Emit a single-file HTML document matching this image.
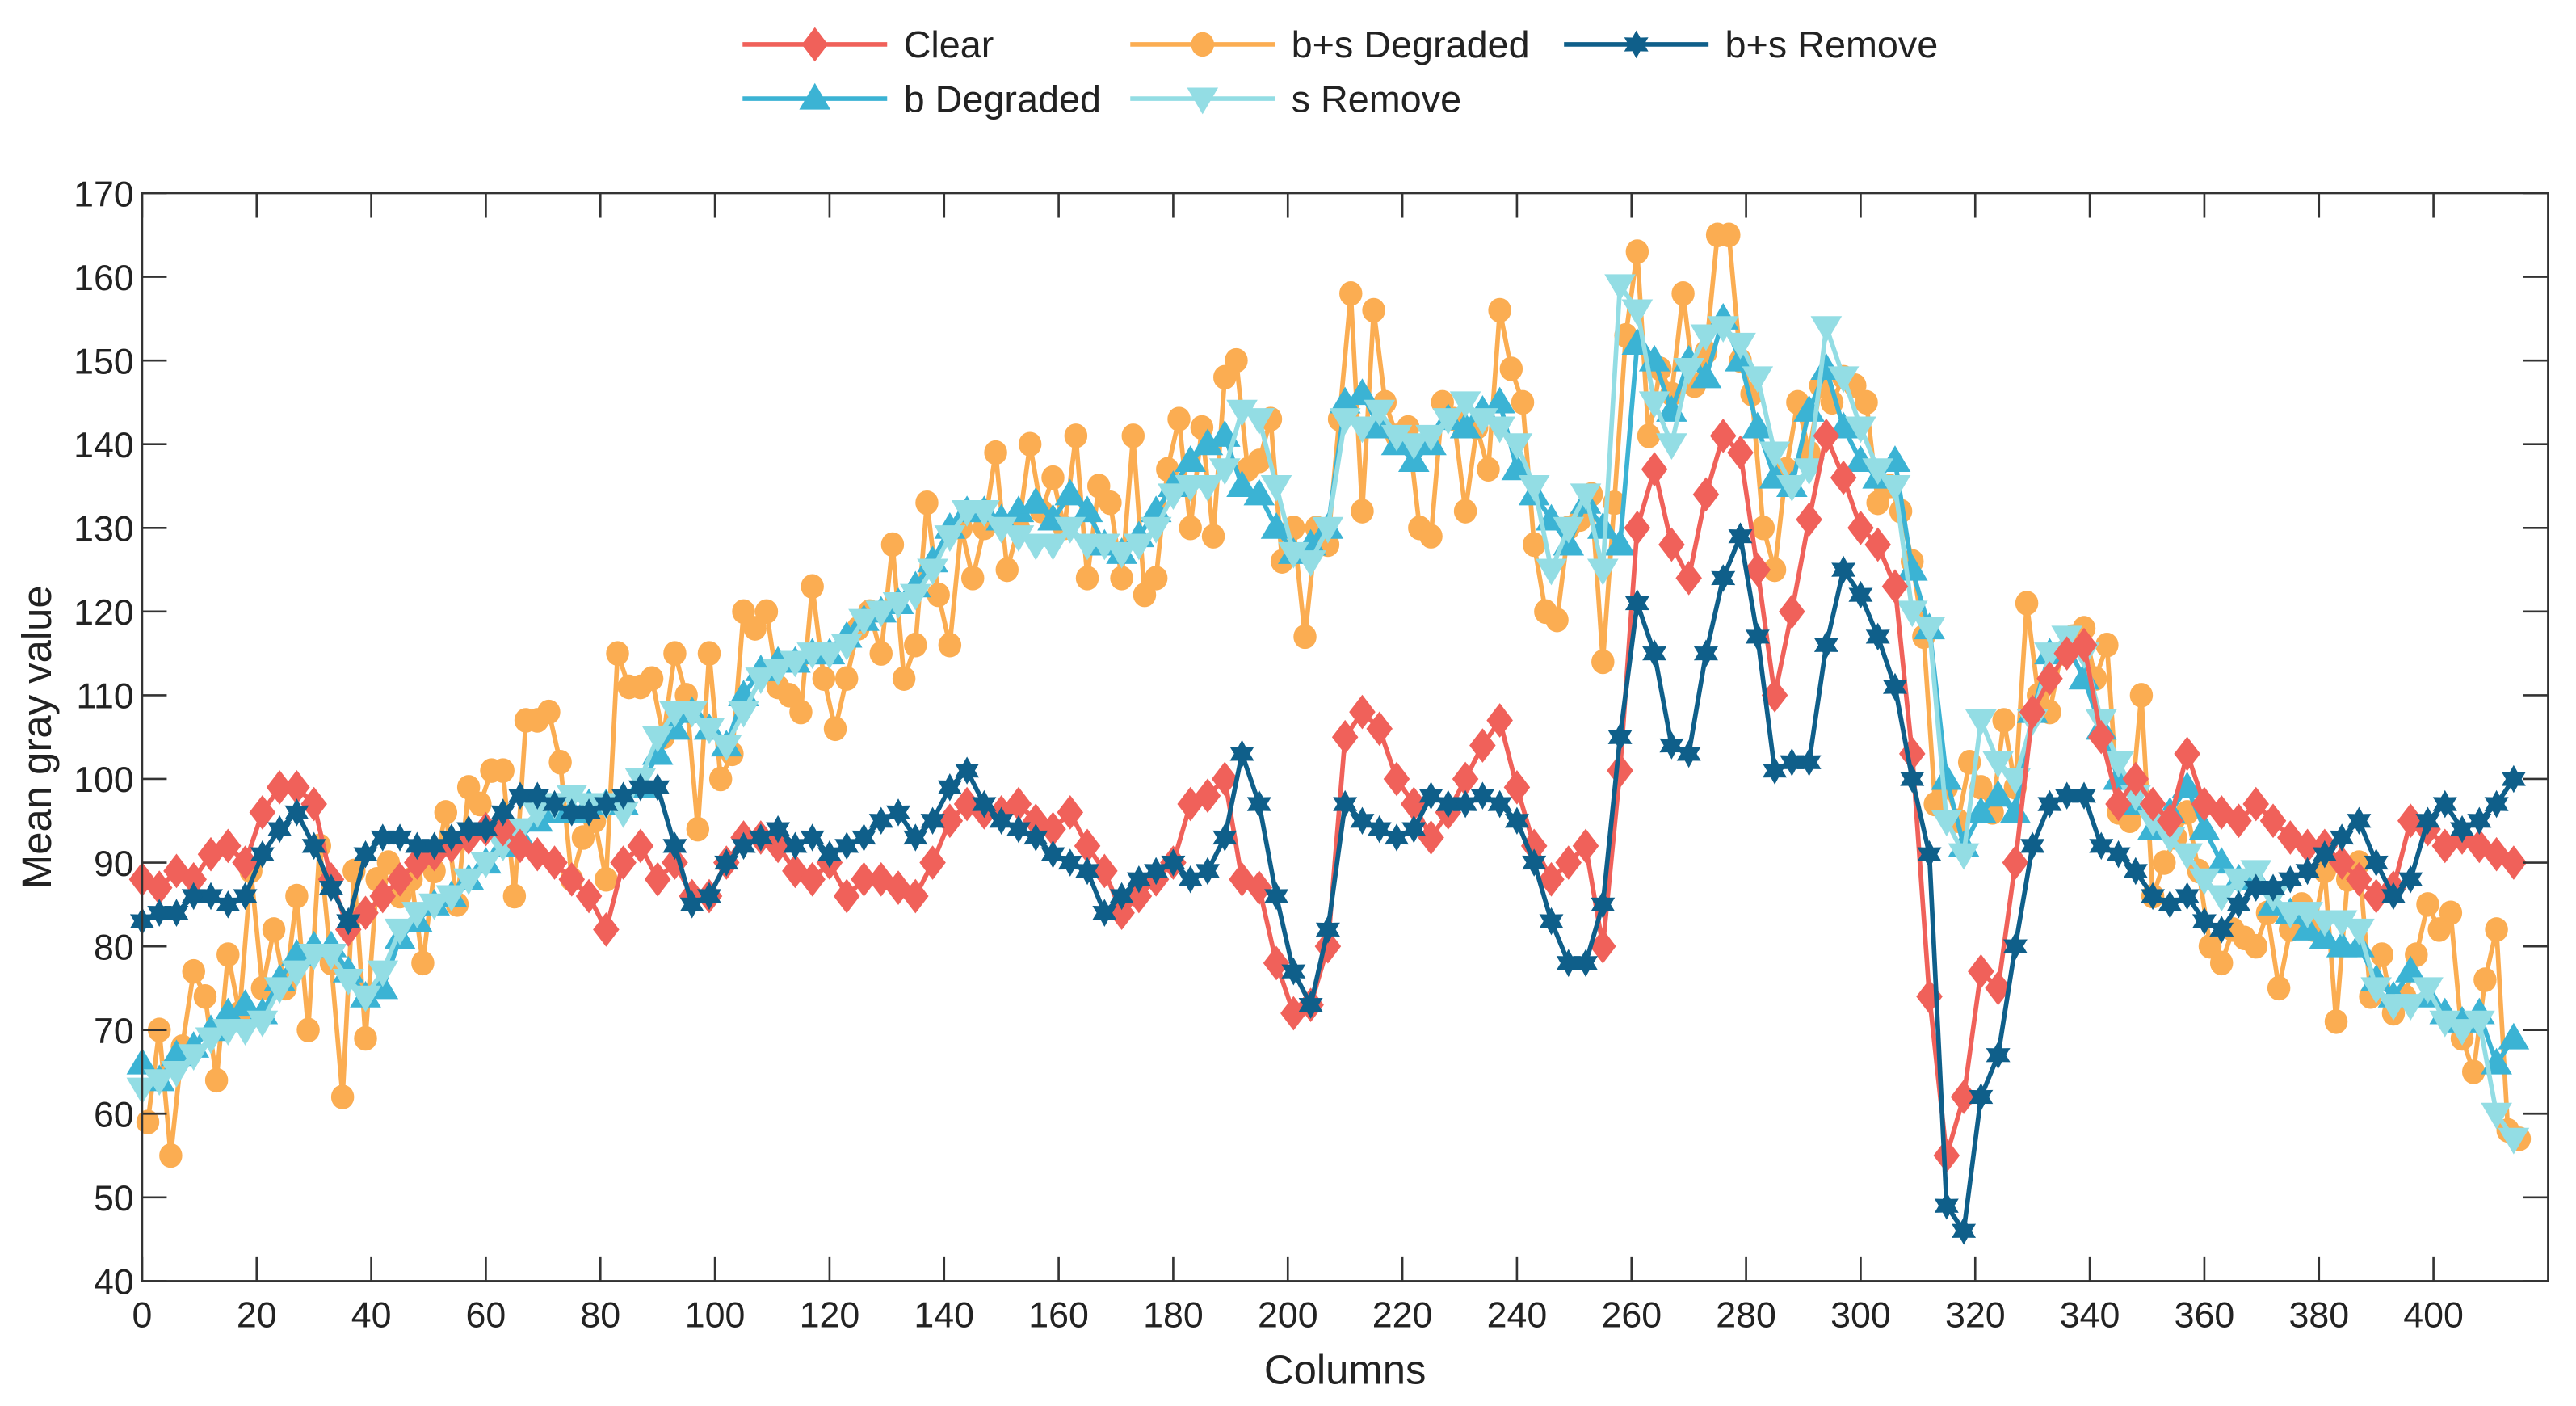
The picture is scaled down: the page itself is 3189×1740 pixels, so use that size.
<!DOCTYPE html>
<html><head><meta charset="utf-8"><style>
html,body{margin:0;padding:0;background:#fff;}
svg{display:block;}
text{font-family:"Liberation Sans",Arial,sans-serif;fill:#222;}
</style></head><body>
<svg id="chart" width="3189" height="1740" viewBox="0 0 1568 855.5" xmlns="http://www.w3.org/2000/svg">
<g id="grid-layer"></g>
<g id="series-layer"></g>
<g id="axis-layer"></g>
<g id="legend-layer"></g>
</svg>
<script>
const clearVals=[88,87,89,88,91,92,90,96,99,99, 97,88,82,84,86,88,90,91,92,93, 94,94,92,91,90,88,86,82,90,92, 88,90,86,86,90,93,93,92,89,88, 90,86,88,88,87,86,90,95,97,96, 96,97,95,94,96,92,89,84,86,88, 90,97,98,100,88,87,78,72,73,80, 105,108,106,100,97,93,96,100,104,107, 99,92,88,90,92,80,101,130,137,128, 124,134,141,139,125,110,120,131,141,136, 130,128,123,103,74,55,62,77,75,90, 108,112,115,116,105,97,100,97,95,103, 97,96,95,97,95,93,92,92,90,88, 86,87,95,94,92,93,92,91,90];
const bsRemoveVals=[83,84,84,86,86,85,86,91,94,96, 92,87,83,91,93,93,92,92,93,94, 94,96,98,98,97,96,96,97,98,99, 99,92,85,86,90,92,93,94,92,93, 91,92,93,95,96,93,95,99,101,97, 95,94,93,91,90,89,84,86,88,89, 90,88,89,93,103,97,86,77,73,82, 97,95,94,93,94,98,97,97,98,97, 95,90,83,78,78,85,105,121,115,104, 103,115,124,129,117,101,102,102,116,125, 122,117,111,100,91,49,46,62,67,80, 92,97,98,98,92,91,89,86,85,86, 83,82,85,87,87,88,89,91,93,95, 90,86,88,95,97,94,95,97,100];
const bDegVals=[66,64,67,68,70,72,73,72,76,79, 80,80,77,74,75,81,83,85,86,88, 90,92,93,95,96,96,97,97,97,99, 103,106,108,106,104,110,113,114,114,115, 115,117,119,120,121,123,126,130,132,132, 131,132,133,131,134,132,128,127,129,132, 135,138,140,141,135,134,130,127,128,130, 145,146,142,140,138,140,143,142,144,145, 137,134,131,128,133,130,128,152,150,144, 150,148,155,150,142,136,135,144,149,142, 138,136,138,125,118,100,92,96,98,96, 108,115,116,112,106,100,97,94,96,99, 94,90,88,88,85,84,82,81,80,80, 76,74,77,74,72,71,72,66,69];
const sRemoveVals=[63,64,65,67,69,70,70,71,75,77, 79,79,76,74,77,82,84,85,86,88, 90,92,94,96,97,98,97,97,96,100, 105,108,108,106,104,108,112,113,114,115, 115,116,119,120,121,122,125,129,132,132, 130,129,128,128,130,128,128,127,128,130, 134,135,135,137,144,143,135,127,126,130, 143,142,144,141,140,141,143,145,143,142, 140,135,125,130,134,125,159,156,145,140, 149,153,154,152,148,139,135,137,154,148, 142,137,135,120,118,95,91,107,102,100, 107,115,117,115,107,102,98,95,93,91, 88,86,88,89,86,84,84,83,83,82, 75,73,73,75,71,70,71,60,57];
const bsDegVals=[59,70,55,68,77,74,64,79,72,89,75,82,75,86,70,92,78,62,89,69,88,90,86,88,78,89,96,85,99,97,101,101,86,107,107,108,102,88,93,95,88,115,111,111,112,105,115,110,94,115,100,103,120,118,120,111,110,108,123,112,106,112,118,120,115,128,112,116,133,122,116,130,124,130,139,125,130,140,132,136,130,141,124,135,133,124,141,122,124,137,143,130,142,129,148,150,137,138,143,126,130,117,130,128,143,158,132,156,145,141,142,130,129,145,143,132,142,137,156,149,145,128,120,119,130,131,134,114,133,153,163,141,149,146,158,147,151,165,165,150,146,130,125,137,145,139,147,145,148,147,145,133,135,132,126,117,97,99,95,102,99,96,107,99,121,110,108,115,117,118,112,116,96,95,110,86,90,93,96,89,80,78,82,81,80,84,75,82,85,82,89,71,88,90,74,79,72,74,79,85,82,84,69,65,76,82,58,57];
const xTicks=[0,20,40,60,80,100,120,140,160,180,200,220,240,260,280,300,320,340,360,380,400];
const yTicks=[40,50,60,70,80,90,100,110,120,130,140,150,160,170];
const seriesNames=["Clear","b Degraded","b+s Degraded","s Remove","b+s Remove"];

const NS="http://www.w3.org/2000/svg";
const L=86.5,R=1551,T=117.5,B=779.5;
const X0=0,X1=420,Y0=40,Y1=170;
function xs(c){return L+(c-X0)/(X1-X0)*(R-L);}
function ys(v){return B-(v-Y0)/(Y1-Y0)*(B-T);}
function mk(tag,attrs,parent){const e=document.createElementNS(NS,tag);for(const k in attrs)e.setAttribute(k,attrs[k]);parent.appendChild(e);return e;}

const colsStep3=clearVals.map((v,i)=>i*3);
const colsStep2=bsDegVals.map((v,i)=>i*2+1);

function markerPath(type,x,y){
 if(type==='diamond'){const w=8,h=10.5;return `M${x},${y-h}L${x+w},${y}L${x},${y+h}L${x-w},${y}Z`;}
 if(type==='up'){const s=9.5;return `M${x},${y-s}L${x+s},${y+s*0.7}L${x-s},${y+s*0.7}Z`;}
 if(type==='down'){const s=9.5;return `M${x},${y+s}L${x+s},${y-s*0.7}L${x-s},${y-s*0.7}Z`;}
 if(type==='star'){let d='';for(let i=0;i<12;i++){const r=i%2?4.8:8.5;const a=-Math.PI/2+i*Math.PI/6;d+=(i?'L':'M')+(x+r*Math.cos(a)).toFixed(2)+','+(y+r*Math.sin(a)).toFixed(2);}return d+'Z';}
 return '';
}
function drawMarker(type,x,y,color,g){
 if(type==='circle'){return mk('ellipse',{cx:x,cy:y,rx:7,ry:7.5,fill:color},g);}
 return mk('path',{d:markerPath(type,x,y),fill:color},g);
}

const sl=document.getElementById('series-layer');
function drawSeries(cols,vals,color,type,name){
 const g=mk('g',{},sl);
 
 
 const pts=vals.map((v,i)=>xs(cols[i]).toFixed(2)+','+ys(v).toFixed(2)).join(' ');
 const pl=mk('polyline',{points:pts,fill:'none',stroke:color,'stroke-width':2.8,'stroke-linejoin':'round'},g);
 
 
 vals.forEach((v,i)=>{
  const m=drawMarker(type,xs(cols[i]),ys(v),color,g);
  
  
 });
}
drawSeries(colsStep2,bsDegVals,'#fbad52','circle','bs-degraded');
drawSeries(colsStep3,bDegVals,'#3bb3d4','up','b-degraded');
drawSeries(colsStep3,sRemoveVals,'#93dde4','down','s-remove');
drawSeries(colsStep3,clearVals,'#f0615a','diamond','clear');
drawSeries(colsStep3,bsRemoveVals,'#0f5f8a','star','bs-remove');

const al=document.getElementById('axis-layer');
const box=mk('rect',{x:L,y:T,width:R-L,height:B-T,fill:'none',stroke:'#333','stroke-width':1.3},al);


xTicks.forEach(t=>{
 const x=xs(t);
 mk('line',{x1:x,y1:B,x2:x,y2:B-15,stroke:'#333','stroke-width':1.3},al);
 mk('line',{x1:x,y1:T,x2:x,y2:T+15,stroke:'#333','stroke-width':1.3},al);
 const tx=mk('text',{x:x,y:B+28,'text-anchor':'middle','font-size':22},al);
 tx.textContent=t;
 
 
});
yTicks.forEach(t=>{
 const y=ys(t);
 mk('line',{x1:L,y1:y,x2:L+15,y2:y,stroke:'#333','stroke-width':1.3},al);
 mk('line',{x1:R,y1:y,x2:R-15,y2:y,stroke:'#333','stroke-width':1.3},al);
 const tx=mk('text',{x:L-5,y:y+8,'text-anchor':'end','font-size':22},al);
 tx.textContent=t;
 
 
});
const xt=mk('text',{x:(L+R)/2,y:842,'text-anchor':'middle','font-size':25},al);
xt.textContent='Columns';


const yt=mk('text',{x:0,y:0,'text-anchor':'middle','font-size':25,transform:`translate(31,${(T+B)/2}) rotate(-90)`},al);
yt.textContent='Mean gray value';



const lg=document.getElementById('legend-layer');
const legItems=[
 {n:0,x:452,y:27,c:'#f0615a',t:'diamond'},
 {n:2,x:688,y:27,c:'#fbad52',t:'circle'},
 {n:4,x:952,y:27,c:'#0f5f8a',t:'star'},
 {n:1,x:452,y:60,c:'#3bb3d4',t:'up'},
 {n:3,x:688,y:60,c:'#93dde4',t:'down'}
];
legItems.forEach(it=>{
 const g=mk('g',{},lg);
 
 
 mk('line',{x1:it.x,y1:it.y,x2:it.x+88,y2:it.y,stroke:it.c,'stroke-width':2.8},g);
 drawMarker(it.t,it.x+44,it.y,it.c,g);
 const tx=mk('text',{x:it.x+98,y:it.y+8,'font-size':23},g);
 tx.textContent=seriesNames[it.n];
});
</script>
</body></html>
